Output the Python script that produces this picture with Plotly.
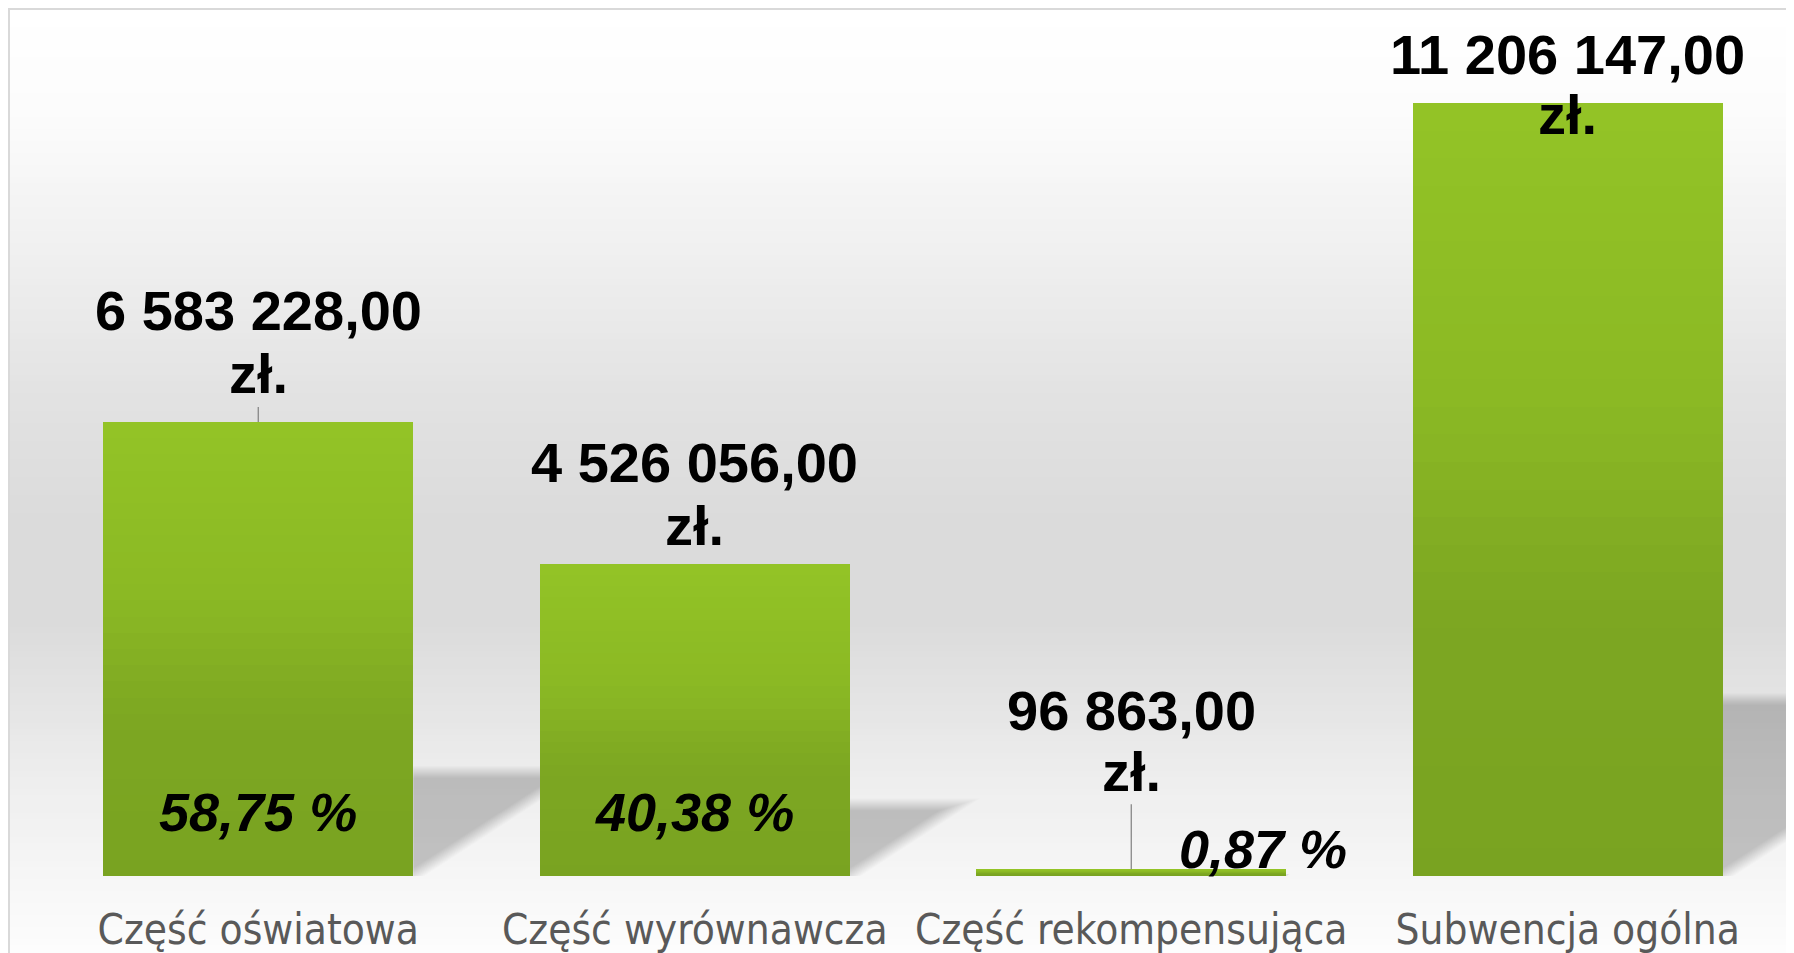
import plotly.graph_objects as go

# data
CATEGORIES = ["Część oświatowa", "Część wyrównawcza", "Część rekompensująca", "Subwencja ogólna"]
VALUES = [6583228.00, 4526056.00, 96863.00, 11206147.00]
SHARES = ["58,75 %", "40,38 %", "0,87 %", ""]

# layout; the page puts the figure 8 px in from the top-left corner
PAGE_W, PAGE_H = 1794, 953
OFF = 8
W, H = PAGE_W - OFF, PAGE_H - OFF
PLOT_LEFT, PLOT_RIGHT, PLOT_TOP, PLOT_BOTTOM = 40, 1786, 20, 876   # page pixels
PLOT_W = PLOT_RIGHT - PLOT_LEFT
PLOT_H = PLOT_BOTTOM - PLOT_TOP
Y_MAX = 12.41e6
BAR_W = 0.71
PX_PER_CAT = PLOT_W / len(CATEGORIES)
PX_PER_UNIT = PLOT_H / Y_MAX

VALUE_FONT = "Liberation Sans, Arial, sans-serif"
CAT_FONT = "DejaVu Sans Condensed, Open Sans, sans-serif"

# label offsets from the bar top (pixels, down is positive)
NUM_DY = [-111, -101, -159, -49]
UNIT_DY = [-48, -38, -98, 11]
LEADER = [True, False, True, False]
SHARE_SHIFT = [(0, 64), (0, 64), (132, 27), (0, 0)]


def py(y):
    return (PLOT_BOTTOM - y) / PLOT_H


def px(x):
    return (x - PLOT_LEFT) / PLOT_W


def lerp(stops, t):
    for (a, ca), (b, cb) in zip(stops, stops[1:]):
        if a <= t <= b:
            k = (t - a) / (b - a) if b > a else 0
            return tuple(round(ca[i] + (cb[i] - ca[i]) * k) for i in range(3))
    return stops[-1][1] if t > stops[-1][0] else stops[0][1]


def rgb(c):
    return "rgb(%d,%d,%d)" % c


def money(v):
    return f"{v:,.2f}".replace(",", " ").replace(".", ",")


# background gradient of the chart area
BG_STOPS = [(9, (255,) * 3), (110, (252,) * 3), (250, (240,) * 3), (400, (226,) * 3),
            (520, (219,) * 3), (620, (219,) * 3), (700, (228,) * 3), (780, (238,) * 3),
            (876, (246,) * 3), (953, (253,) * 3)]
shapes = []
step = 6
for y in range(9, PAGE_H, step):
    c = lerp(BG_STOPS, y + step / 2)
    shapes.append(dict(type="rect", xref="paper", yref="paper", layer="below",
                       x0=px(9), x1=px(PAGE_W + 10),
                       y0=py(y + step + 1), y1=py(y),
                       fillcolor=rgb(c), line=dict(width=0)))
shapes.append(dict(type="rect", xref="paper", yref="paper", layer="below",
                   x0=px(9), x1=px(PAGE_W + 20), y0=py(PAGE_H + 20), y1=py(9),
                   fillcolor="rgba(0,0,0,0)", line=dict(color="#d9d9d9", width=2)))

# soft perspective shadows: a triangle to the right of each bar, blurred by layering
SLOPE = 0.65
SHADOW_RATIO = 0.229
for i, v in enumerate(VALUES):
    h_px = v * PX_PER_UNIT
    xr = i + BAR_W / 2
    top = SHADOW_RATIO * h_px
    blur = min(6.0, top / 3)
    n = 13
    for j in range(n):
        e = -blur + 2 * blur * j / (n - 1)
        t_e = top + e
        c = e * 1.19
        pts = [(0, max(0.0, -c)), (0, t_e), ((t_e + c) / SLOPE, t_e)]
        if c > 0:
            pts.append((c / SLOPE, 0))
        path = "M " + " L ".join(f"{xr + a / PX_PER_CAT},{b / PX_PER_UNIT}" for a, b in pts) + " Z"
        shapes.append(dict(type="path", xref="x", yref="y", layer="below", path=path,
                           fillcolor="rgba(0,0,0,0.0145)", line=dict(width=0)))

# bars with a top-to-bottom green gradient, built from stacked overlays
BAR_STOPS = [(0.0, (121, 163, 33)), (0.35, (125, 167, 34)), (0.62, (139, 185, 36)),
             (1.0, (147, 195, 38))]
N = 28
fig = go.Figure()
for k in range(N):
    frac = 1 - k / N
    col = lerp(BAR_STOPS, 1 - (k + 0.5) / N)
    fig.add_trace(go.Bar(
        x=list(range(len(CATEGORIES))),
        y=[v * frac for v in VALUES],
        width=BAR_W,
        marker=dict(color=rgb(col), line=dict(width=0)),
        hoverinfo="skip" if k else "y",
        showlegend=False,
    ))

annotations = []
for i, v in enumerate(VALUES):
    font = dict(family=VALUE_FONT, size=56, color="black", weight="bold")
    annotations.append(dict(x=i, y=v, xref="x", yref="y", text=money(v), font=font,
                            showarrow=False, yanchor="middle", yshift=-NUM_DY[i]))
    if LEADER[i]:
        annotations.append(dict(x=i, y=v, xref="x", yref="y", text="zł.", font=font,
                                showarrow=True, arrowhead=0, arrowwidth=1.2,
                                arrowcolor="#7f7f7f", ax=0, ay=UNIT_DY[i], standoff=0))
    else:
        annotations.append(dict(x=i, y=v, xref="x", yref="y", text="zł.", font=font,
                                showarrow=False, yanchor="middle", yshift=-UNIT_DY[i]))
    if SHARES[i]:
        annotations.append(dict(x=i, y=0, xref="x", yref="y", text=SHARES[i],
                                showarrow=False, yanchor="middle",
                                xshift=SHARE_SHIFT[i][0], yshift=SHARE_SHIFT[i][1],
                                font=dict(family=VALUE_FONT, size=54, color="black",
                                          weight="bold", style="italic")))

fig.update_layout(
    width=W, height=H,
    margin=dict(l=PLOT_LEFT - OFF, r=W - (PLOT_RIGHT - OFF),
                t=PLOT_TOP - OFF, b=H - (PLOT_BOTTOM - OFF)),
    barmode="overlay",
    bargap=0,
    paper_bgcolor="white",
    plot_bgcolor="rgba(0,0,0,0)",
    shapes=shapes,
    annotations=annotations,
    xaxis=dict(range=[-0.5, len(CATEGORIES) - 0.5], tickmode="array",
               tickvals=list(range(len(CATEGORIES))), ticktext=CATEGORIES,
               tickangle=0, showgrid=False, zeroline=False, showline=False, ticks="",
               ticklabelstandoff=25, automargin=False,
               tickfont=dict(family=CAT_FONT, size=42, color="#595959")),
    yaxis=dict(range=[0, Y_MAX], visible=False, showgrid=False, zeroline=False,
               automargin=False),
)

fig.write_html("out.html")
